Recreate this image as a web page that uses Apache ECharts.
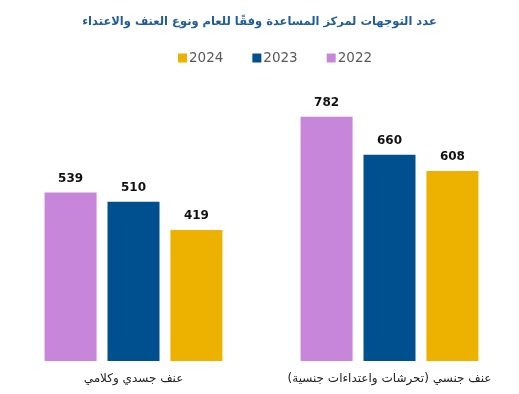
<!DOCTYPE html>
<html><head><meta charset="utf-8">
<script src="https://cdn.jsdelivr.net/npm/echarts@6/dist/echarts.min.js"></script>
<style>html,body{margin:0;padding:0;background:#fff}#c{width:519px;height:394px}</style>
</head><body><div id="c"></div>
<script>
const titleText = 'عدد التوجهات لمركز المساعدة وفقًا للعام ونوع العنف والاعتداء';
const categories = ['عنف جسدي وكلامي', 'عنف جنسي (تحرشات واعتداءات جنسية)'];
const years = ['2022', '2023', '2024'];
const values2022 = [539, 782];
const values2023 = [510, 660];
const values2024 = [419, 608];
const colors = ['#C886DB', '#00508F', '#EDB200'];
const seriesValues = [values2022, values2023, values2024];

const chart = echarts.init(document.getElementById('c'));
chart.setOption({
  animation: false,
  title: {
    text: titleText, left: 'center', top: 11,
    textStyle: {color: '#1F5C99', fontSize: 11.5, fontWeight: 'bold', fontFamily: 'DejaVu Sans'}
  },
  legend: {
    data: ['2024', '2023', '2022'], top: 46, left: 173,
    itemWidth: 9, itemHeight: 9, itemGap: 29, icon: 'rect',
    textStyle: {color: '#595959', fontSize: 13.5, fontFamily: 'DejaVu Sans', padding: [0,0,0,-3]}
  },
  grid: {left: 5.5, right: 1.5, top: 111, bottom: 33},
  xAxis: {
    type: 'category', data: categories,
    axisLine: {show: false}, axisTick: {show: false},
    axisLabel: {interval: 0, color: '#222', fontSize: 12, fontFamily: 'DejaVu Sans', margin: 12}
  },
  yAxis: {type: 'value', min: 0, max: 800, show: false, splitLine: {show: false}},
  series: years.map((y, i) => ({
    name: y, type: 'bar', data: seriesValues[i],
    barWidth: 52, barGap: '21%',
    itemStyle: {color: colors[i]},
    label: {show: true, position: 'top', distance: 8, color: '#111', fontWeight: 'bold', fontSize: 12, fontFamily: 'DejaVu Sans'}
  }))
});
</script></body></html>
